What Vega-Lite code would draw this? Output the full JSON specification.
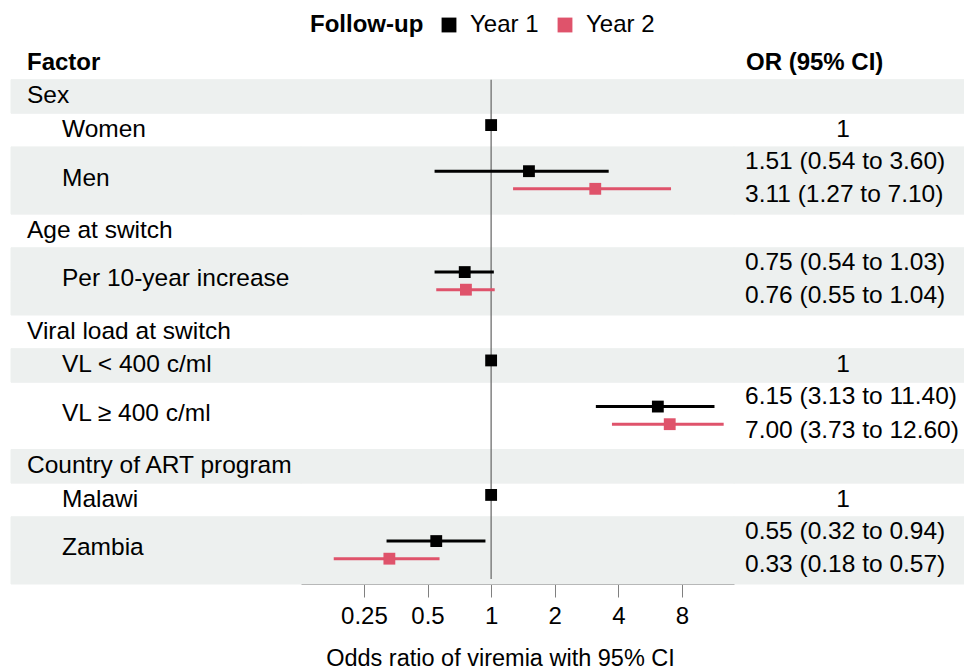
{
  "$schema": "https://vega.github.io/schema/vega-lite/v6.json",
  "padding": {"left": 10, "top": 13, "right": 0, "bottom": 0},
  "bounds": "flush",
  "spacing": 0,
  "config": {
    "view": {"stroke": null},
    "font": "Liberation Sans",
    "text": {"fontSize": 24.5, "fill": "black", "baseline": "middle"}
  },
  "datasets": {
    "rows": [
      {"row": 1, "label": "Sex", "kind": "group", "first": 1, "span": 1},
      {"row": 2, "label": "Women", "kind": "level", "first": 2, "span": 1},
      {"row": 3, "label": "\u00a0Men", "kind": "level", "first": 3, "span": 2},
      {"row": 4, "label": "Age at switch", "kind": "group", "first": 5, "span": 1},
      {"row": 5, "label": "Per 10-year increase", "kind": "level", "first": 6, "span": 2},
      {"row": 6, "label": "Viral load at switch", "kind": "group", "first": 8, "span": 1},
      {"row": 7, "label": "VL < 400 c/ml", "kind": "level", "first": 9, "span": 1},
      {"row": 8, "label": "VL ≥ 400 c/ml", "kind": "level", "first": 10, "span": 2},
      {"row": 9, "label": "Country of ART program", "kind": "group", "first": 12, "span": 1},
      {"row": 10, "label": "Malawi", "kind": "level", "first": 13, "span": 1},
      {"row": 11, "label": "Zambia", "kind": "level", "first": 14, "span": 2}
    ],
    "bands": [
      {"line": 1, "row": 1}, {"line": 2, "row": 2}, {"line": 3, "row": 3}, {"line": 4, "row": 3},
      {"line": 5, "row": 4}, {"line": 6, "row": 5}, {"line": 7, "row": 5}, {"line": 8, "row": 6},
      {"line": 9, "row": 7}, {"line": 10, "row": 8}, {"line": 11, "row": 8}, {"line": 12, "row": 9},
      {"line": 13, "row": 10}, {"line": 14, "row": 11}, {"line": 15, "row": 11}
    ],
    "est": [
      {"level": "Women", "year": "Year 1", "or": 1, "lo": null, "hi": null, "line": 2, "ortext": "1"},
      {"level": "Men", "year": "Year 1", "or": 1.51, "lo": 0.54, "hi": 3.60, "line": 3, "ortext": "1.51 (0.54 to 3.60)"},
      {"level": "Men", "year": "Year 2", "or": 3.11, "lo": 1.27, "hi": 7.10, "line": 4, "ortext": "3.11 (1.27 to 7.10)"},
      {"level": "Per 10-year increase", "year": "Year 1", "or": 0.75, "lo": 0.54, "hi": 1.03, "line": 6, "ortext": "0.75 (0.54 to 1.03)"},
      {"level": "Per 10-year increase", "year": "Year 2", "or": 0.76, "lo": 0.55, "hi": 1.04, "line": 7, "ortext": "0.76 (0.55 to 1.04)"},
      {"level": "VL < 400 c/ml", "year": "Year 1", "or": 1, "lo": null, "hi": null, "line": 9, "ortext": "1"},
      {"level": "VL ≥ 400 c/ml", "year": "Year 1", "or": 6.15, "lo": 3.13, "hi": 11.40, "line": 10, "ortext": "6.15 (3.13 to 11.40)"},
      {"level": "VL ≥ 400 c/ml", "year": "Year 2", "or": 7.00, "lo": 3.73, "hi": 12.60, "line": 11, "ortext": "7.00 (3.73 to 12.60)"},
      {"level": "Malawi", "year": "Year 1", "or": 1, "lo": null, "hi": null, "line": 13, "ortext": "1"},
      {"level": "Zambia", "year": "Year 1", "or": 0.55, "lo": 0.32, "hi": 0.94, "line": 14, "ortext": "0.55 (0.32 to 0.94)"},
      {"level": "Zambia", "year": "Year 2", "or": 0.33, "lo": 0.18, "hi": 0.57, "line": 15, "ortext": "0.33 (0.18 to 0.57)"}
    ]
  },
  "hconcat": [
    {
      "width": 290,
      "height": 538,
      "layer": [
        {
          "data": {"name": "bands"},
          "transform": [{"filter": "datum.row % 2 == 1"}],
          "mark": {"type": "rect", "fill": "#edf0ef", "stroke": "#edf0ef", "strokeWidth": 1},
          "encoding": {"y": {"field": "line", "type": "ordinal", "scale": {"type": "band", "domain": [0,1,2,3,4,5,6,7,8,9,10,11,12,13,14,15], "paddingInner": 0, "paddingOuter": 0}, "axis": null}}
        },
        {
          "data": {"values": [{"line": 0, "head": "Factor"}]},
          "mark": {"type": "text", "align": "left", "x": 16, "fontWeight": "bold", "fontSize": 24},
          "encoding": {"y": {"field": "line", "type": "ordinal"}, "text": {"field": "head"}}
        },
        {
          "data": {"name": "rows"},
          "transform": [{"filter": "datum.kind == 'group'"}],
          "mark": {"type": "text", "align": "left", "x": 16},
          "encoding": {"y": {"field": "first", "type": "ordinal"}, "text": {"field": "label"}}
        },
        {
          "data": {"name": "rows"},
          "transform": [{"filter": "datum.kind == 'level' && datum.span == 1"}],
          "mark": {"type": "text", "align": "left", "x": 51},
          "encoding": {"y": {"field": "first", "type": "ordinal"}, "text": {"field": "label"}}
        },
        {
          "data": {"name": "rows"},
          "transform": [{"filter": "datum.kind == 'level' && datum.span == 2"}],
          "mark": {"type": "text", "align": "left", "x": 51, "dy": -2},
          "encoding": {"y": {"field": "first", "type": "ordinal", "bandPosition": 1}, "text": {"field": "label"}}
        }
      ]
    },
    {
      "width": 433,
      "height": 538,
      "layer": [
        {
          "data": {"name": "bands"},
          "transform": [{"filter": "datum.row % 2 == 1"}],
          "mark": {"type": "rect", "fill": "#edf0ef", "stroke": "#edf0ef", "strokeWidth": 1},
          "encoding": {"y": {"field": "line", "type": "ordinal", "scale": {"type": "band", "domain": [0,1,2,3,4,5,6,7,8,9,10,11,12,13,14,15], "paddingInner": 0, "paddingOuter": 0}, "axis": null}}
        },
        {
          "data": {"values": [{"ref": 1}]},
          "mark": {"type": "rule", "color": "#6e6e6e", "strokeWidth": 1.3, "y2Offset": -5},
          "encoding": {
            "x": {
              "field": "ref", "type": "quantitative",
              "scale": {"type": "log", "domain": [0.126, 14.1], "nice": false},
              "axis": {
                "values": [0.25, 0.5, 1, 2, 4, 8], "format": "~g",
                "title": "Odds ratio of viremia with 95% CI", "titleX": 199,
                "titleFontSize": 23.5, "titleFontWeight": "normal", "titleColor": "black",
                "labelFontSize": 24, "labelColor": "black", "labelPadding": 7, "titlePadding": 18,
                "tickSize": 13, "tickColor": "#808080", "domainColor": "#808080", "grid": false,
                "labelFlush": false, "labelOverlap": false
              }
            },
            "y": {"datum": 1, "type": "ordinal", "bandPosition": 0},
            "y2": {"datum": 15, "bandPosition": 1}
          }
        },
        {
          "data": {"name": "est"},
          "transform": [{"filter": "datum.year == 'Year 1' && isValid(datum.lo)"}],
          "mark": {"type": "rule", "strokeWidth": 3, "color": "#000000", "yOffset": 7.5},
          "encoding": {"x": {"field": "lo", "type": "quantitative"}, "x2": {"field": "hi"}, "y": {"field": "line", "type": "ordinal"}}
        },
        {
          "data": {"name": "est"},
          "transform": [{"filter": "datum.year == 'Year 2'"}],
          "mark": {"type": "rule", "strokeWidth": 3, "color": "#DF536B", "yOffset": -8.5},
          "encoding": {"x": {"field": "lo", "type": "quantitative"}, "x2": {"field": "hi"}, "y": {"field": "line", "type": "ordinal"}}
        },
        {
          "data": {"name": "est"},
          "transform": [{"filter": "datum.year == 'Year 1' && isValid(datum.lo)"}],
          "mark": {"type": "point", "shape": "square", "filled": true, "size": 140, "opacity": 1, "yOffset": 7.5},
          "encoding": {
            "x": {"field": "or", "type": "quantitative"},
            "y": {"field": "line", "type": "ordinal"},
            "color": {
              "field": "year", "type": "nominal",
              "scale": {"domain": ["Year 1", "Year 2"], "range": ["#000000", "#DF536B"]},
              "legend": {
                "title": "Follow-up", "orient": "none", "legendX": 299, "legendY": -33,
                "direction": "horizontal", "titleOrient": "left", "titleFontSize": 24, "titleFontWeight": "bold",
                "titleColor": "black", "titlePadding": 13, "labelFontSize": 24, "labelColor": "black",
                "symbolType": "square", "symbolSize": 220, "symbolStrokeWidth": 0, "symbolOpacity": 1,
                "labelOffset": 9, "columnPadding": 14, "padding": 0
              }
            }
          }
        },
        {
          "data": {"name": "est"},
          "transform": [{"filter": "datum.year == 'Year 2'"}],
          "mark": {"type": "point", "shape": "square", "filled": true, "size": 140, "opacity": 1, "yOffset": -8.5},
          "encoding": {
            "x": {"field": "or", "type": "quantitative"},
            "y": {"field": "line", "type": "ordinal"},
            "color": {"field": "year", "type": "nominal"}
          }
        },
        {
          "data": {"name": "est"},
          "transform": [{"filter": "!isValid(datum.lo)"}],
          "mark": {"type": "point", "shape": "square", "filled": true, "size": 140, "opacity": 1, "yOffset": -5},
          "encoding": {
            "x": {"field": "or", "type": "quantitative"},
            "y": {"field": "line", "type": "ordinal"},
            "color": {"field": "year", "type": "nominal"}
          }
        }
      ]
    },
    {
      "width": 231,
      "height": 538,
      "layer": [
        {
          "data": {"name": "bands"},
          "transform": [{"filter": "datum.row % 2 == 1"}],
          "mark": {"type": "rect", "fill": "#edf0ef", "stroke": "#edf0ef", "strokeWidth": 1},
          "encoding": {"y": {"field": "line", "type": "ordinal", "scale": {"type": "band", "domain": [0,1,2,3,4,5,6,7,8,9,10,11,12,13,14,15], "paddingInner": 0, "paddingOuter": 0}, "axis": null}}
        },
        {
          "data": {"values": [{"line": 0, "head": "OR (95% CI)"}]},
          "mark": {"type": "text", "align": "left", "x": 12, "fontWeight": "bold", "fontSize": 24},
          "encoding": {"y": {"field": "line", "type": "ordinal"}, "text": {"field": "head"}}
        },
        {
          "data": {"name": "est"},
          "transform": [{"filter": "isValid(datum.lo)"}],
          "mark": {"type": "text", "align": "left", "x": 11, "dy": -2},
          "encoding": {"y": {"field": "line", "type": "ordinal"}, "text": {"field": "ortext"}}
        },
        {
          "data": {"name": "est"},
          "transform": [{"filter": "!isValid(datum.lo)"}],
          "mark": {"type": "text", "align": "center", "x": 109},
          "encoding": {"y": {"field": "line", "type": "ordinal"}, "text": {"field": "ortext"}}
        }
      ]
    }
  ]
}
